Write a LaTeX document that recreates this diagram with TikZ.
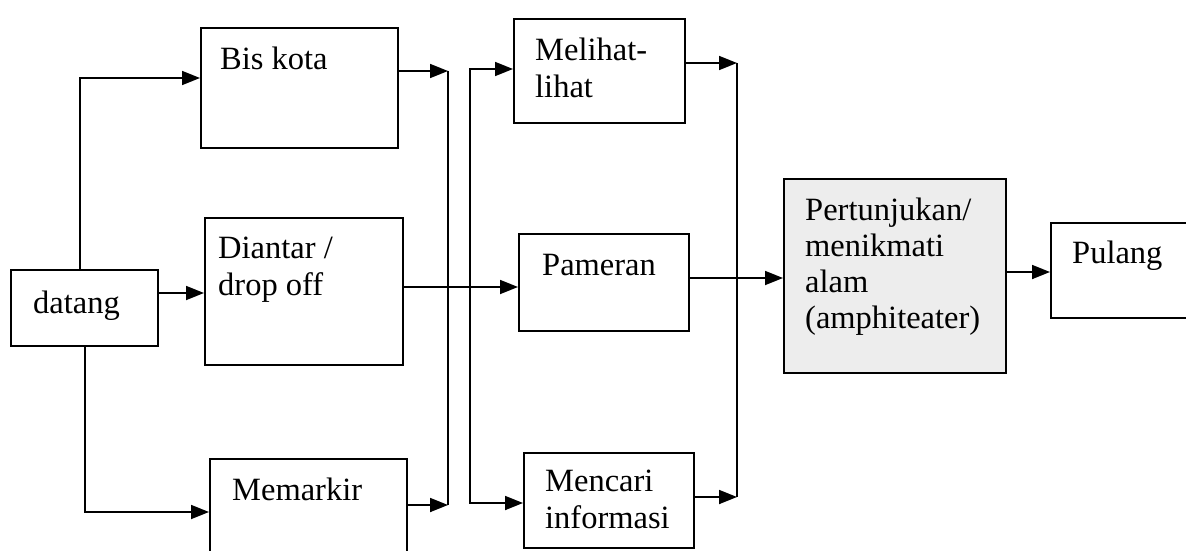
\documentclass[tikz,border=0pt]{standalone}
\usepackage{fontspec}
\setmainfont{Liberation Serif}
\usetikzlibrary{arrows.meta}
\begin{document}
\begin{tikzpicture}[x=1pt,y=-1pt,
  box/.style={draw=black, line width=1.8pt, rectangle, inner sep=0pt, anchor=north west},
  txt/.style={anchor=base west, inner sep=0pt, font=\fontsize{32.5}{37}\selectfont, align=left},
  conn/.style={draw=black, line width=1.8pt},
  arr/.style={conn, -{Triangle[length=18pt,width=14pt]}}]
\useasboundingbox (0,0) rectangle (1186,551);
\clip (0,0) rectangle (1186,551);
% boxes
\node[box, minimum width=147pt, minimum height=76pt] (datang) at (10,269) {};
\node[box, minimum width=197pt, minimum height=120pt] (bis) at (200,27) {};
\node[box, minimum width=198pt, minimum height=147pt] (diantar) at (204,217) {};
\node[box, minimum width=197pt, minimum height=110pt] (memarkir) at (209,458) {};
\node[box, minimum width=171pt, minimum height=104pt] (melihat) at (513,18) {};
\node[box, minimum width=170pt, minimum height=97pt] (pameran) at (518,233) {};
\node[box, minimum width=170pt, minimum height=95pt] (mencari) at (523,452) {};
\node[box, fill=gray!14, minimum width=222pt, minimum height=194pt] (pert) at (783,178) {};
\node[box, minimum width=160pt, minimum height=95pt] (pulang) at (1050,222) {};
% texts (base = baseline of the last line)
\node[txt] (tdatang) at (33,313) {datang};
\node[txt] (tbis) at (220,70) {Bis kota};
\node[txt] (tdiantar) at (218,295) {Diantar /\\drop off};
\node[txt] (tmemarkir) at (232,500) {Memarkir};
\node[txt] (tmelihat) at (535,97) {Melihat-\\lihat};
\node[txt] (tpameran) at (542,275) {Pameran};
\node[txt] (tmencari) at (545,528) {Mencari\\informasi};
\node[txt, font=\fontsize{32.5}{36}\selectfont] (tpert) at (805,328) {Pertunjukan/\\menikmati\\alam\\(amphiteater)};
\node[txt] (tpulang) at (1072,263) {Pulang};
% junction coordinates
\coordinate (busTop) at (448,71);
\coordinate (busBot) at (448,505);
\coordinate (disTop) at (470,69);
\coordinate (disBot) at (470,503);
\coordinate (colTop) at (737,63);
\coordinate (colBot) at (737,497);
% connectors
\draw[arr] ([xshift=70pt]datang.north west) |- (bis.west |- 0,78);
\draw[arr] (datang.east |- 0,293) -- (diantar.west |- 0,293);
\draw[arr] ([xshift=75pt]datang.south west) |- (memarkir.west |- 0,512);
\draw[arr] (bis.east |- busTop) -- (busTop);
\draw[arr] (memarkir.east |- busBot) -- (busBot);
\draw[conn] (busTop) -- (busBot);
\draw[arr] (diantar.east |- 0,287) -- (pameran.west |- 0,287);
\draw[arr] (disBot) |- (melihat.west |- disTop);
\draw[arr] (disTop) |- (mencari.west |- disBot);
\draw[arr] (melihat.east |- colTop) -- (colTop);
\draw[arr] (mencari.east |- colBot) -- (colBot);
\draw[conn] (colTop) -- (colBot);
\draw[arr] (pameran.east |- 0,278) -- (pert.west |- 0,278);
\draw[arr] (pert.east |- 0,272) -- (pulang.west |- 0,272);
\end{tikzpicture}
\end{document}
